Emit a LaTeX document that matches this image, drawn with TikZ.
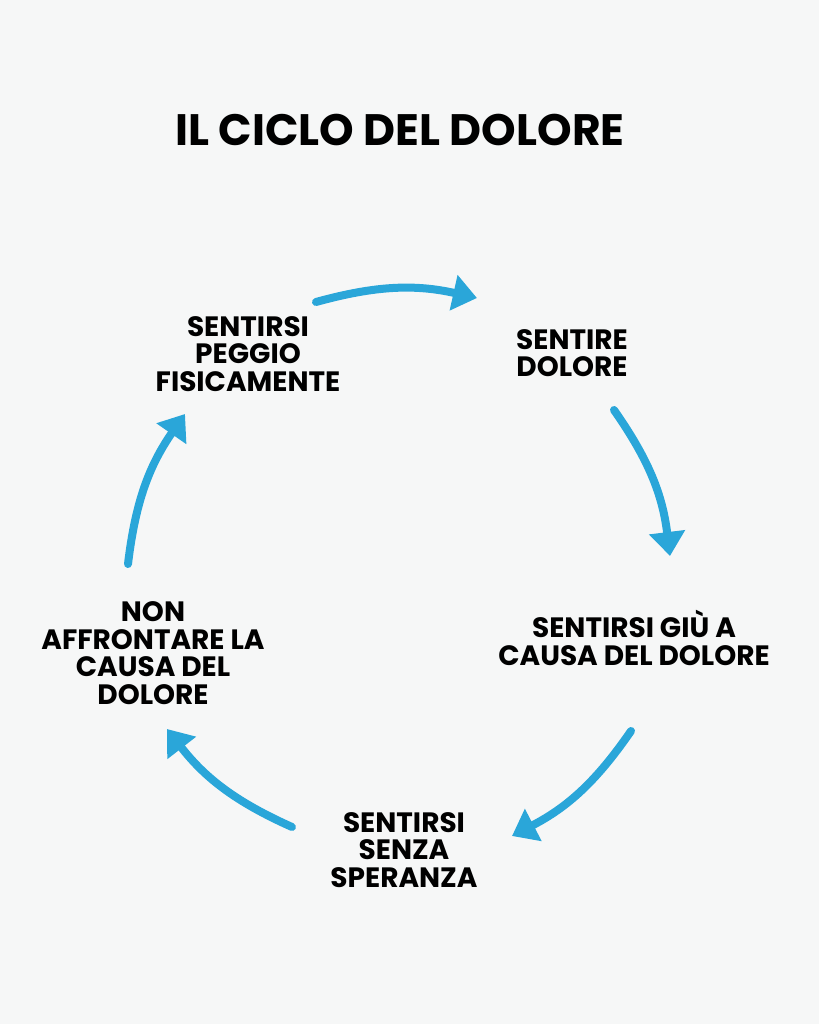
\documentclass[tikz,border=0pt]{standalone}
\usepackage{fontspec}
\setmainfont{Poppins}
\usepackage{tikz}
\usetikzlibrary{arrows.meta}
\definecolor{sfondo}{HTML}{F6F7F7}
\definecolor{freccia}{HTML}{2AA6D9}

\begin{document}
\begin{tikzpicture}[x=1pt,y=-1pt,
		testo/.style={align=center,font=\fontsize{28}{27.5}\selectfont\bfseries,text=black,inner sep=0pt},
		passo/.style={draw=freccia,line width=8pt,line cap=round,-{Triangle[length=24pt,width=35pt]},bend left=14}]
			\fill[sfondo] (0,0) rectangle (819,1024);
			\useasboundingbox (0,0) rectangle (819,1024);
			\node[font=\fontsize{44}{50}\selectfont\bfseries] (titolo) at (400,130) {IL CICLO DEL DOLORE};
			\node[testo] (peggio) at (248,354) {SENTIRSI\\PEGGIO\\FISICAMENTE};
			\node[testo] (dolore) at (572,353) {SENTIRE\\DOLORE};
			\node[testo] (giu) at (634,638) {SENTIRSI GIÙ A\\CAUSA DEL DOLORE};
			\node[testo] (speranza) at (404,850) {SENTIRSI\\SENZA\\SPERANZA};
			\node[testo] (causa) at (153,653) {NON\\AFFRONTARE LA\\CAUSA DEL\\DOLORE};
			\coordinate (1a) at (316,302);
			\coordinate (1b) at (477,298);
			\coordinate (2a) at (614,410);
			\coordinate (2b) at (670,556);
			\coordinate (3a) at (631,731);
			\coordinate (3b) at (512,836);
			\coordinate (4a) at (292,827);
			\coordinate (4b) at (167,729);
			\coordinate (5a) at (128,564);
			\coordinate (5b) at (185,414);
			\foreach \Da/\Db in {1a/1b,2a/2b,3a/3b,4a/4b,5a/5b}
				\draw[passo] (\Da) to (\Db);
		\end{tikzpicture}
\end{document}
